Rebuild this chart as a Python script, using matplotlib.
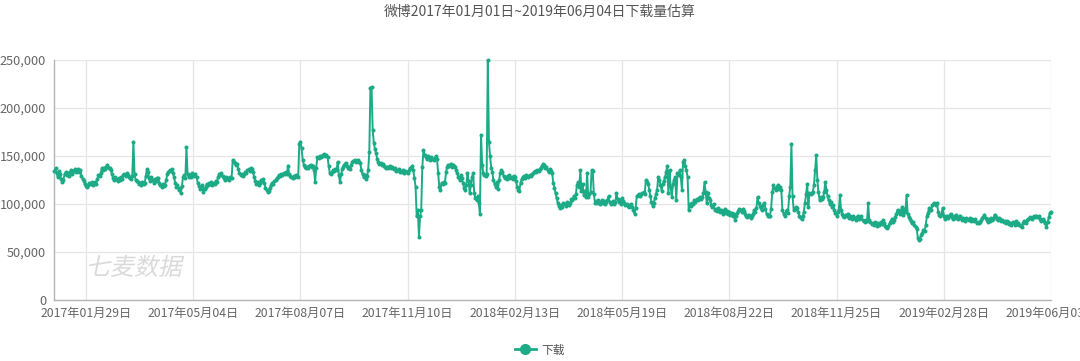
"""
Weibo daily download estimate, 2017-01-01 .. 2019-06-03.
Output: out.png
"""

import matplotlib
matplotlib.use("Agg")
import matplotlib.pyplot as plt
import matplotlib.dates as mdates
from matplotlib.lines import Line2D
from matplotlib.patches import PathPatch
from matplotlib.textpath import TextPath
from matplotlib.font_manager import FontProperties
from matplotlib.transforms import Affine2D
from matplotlib.ticker import FuncFormatter
import numpy as np
import pandas as pd

# ---------------------------------------------------------------------------
# Data (daily downloads, in thousands)
# ---------------------------------------------------------------------------

start_date = "2017-01-01"
title = "微博2017年01月01日~2019年06月04日下载量估算"
series_name = "下载"
watermark = "七麦数据"

tick_dates = ["2017-01-29", "2017-05-04", "2017-08-07", "2017-11-10",
              "2018-02-13", "2018-05-19", "2018-08-22", "2018-11-25",
              "2019-02-28", "2019-06-03"]
y_ticks = [0, 50000, 100000, 150000, 200000, 250000]

downloads_2017_k = [
    134, 137, 132, 128, 134, 131, 126, 123, 125, 131,
    133, 130, 132, 129, 133, 135, 131, 134, 136, 133,
    135, 136, 133, 135, 129, 126, 124, 121, 119, 118,
    120, 122, 121, 123, 120, 122, 123, 121, 126, 130,
    129, 132, 137, 135, 138, 136, 139, 141, 138, 137,
    135, 131, 127, 125, 128, 126, 124, 127, 125, 128,
    126, 130, 131, 129, 132, 130, 128, 127, 126, 129,
    165, 131, 125, 124, 123, 121, 122, 120, 123, 121,
    122, 129, 136, 133, 127, 124, 128, 125, 122, 126,
    124, 127, 127, 122, 120, 118, 121, 119, 120, 125,
    131, 133, 135, 134, 136, 132, 128, 122, 118, 120,
    115, 117, 111, 119, 128, 130, 127, 159, 131, 128,
    130, 128, 132, 130, 129, 131, 128, 122, 119, 116,
    118, 120, 113, 116, 118, 121, 120, 122, 121, 123,
    120, 122, 121, 124, 123, 128, 131, 130, 132, 129,
    127, 125, 128, 126, 127, 125, 128, 127, 146, 144,
    143, 141, 142, 136, 132, 130, 131, 129, 131, 133,
    132, 135, 136, 134, 137, 136, 133, 128, 124, 121,
    123, 120, 122, 125, 124, 126, 122, 117, 115, 113,
    114, 117, 120, 122, 121, 124, 125, 127, 128, 130,
    129, 131, 130, 132, 131, 133, 131, 140, 131, 129,
    128, 127, 129, 128, 130, 129, 128, 163, 165, 158,
    146, 141, 139, 138, 139, 137, 140, 141, 139, 140,
    135, 123, 138, 149, 148, 150, 149, 150, 151, 152,
    150, 151, 149, 140, 132, 131, 133, 135, 134, 136,
    135, 144, 130, 123, 131, 136, 139, 141, 143, 140,
    138, 137, 136, 141, 144, 145, 146, 144, 145, 146,
    144, 143, 135, 131, 128, 130, 126, 129, 135, 154,
    221, 222, 177, 164, 157, 153, 147, 144, 142, 143,
    141, 142, 140, 139, 138, 139, 138, 140, 137, 139,
    138, 136, 137, 134, 135, 136, 133, 134, 133, 135,
    132, 134, 133, 132, 135, 137, 138, 140, 135, 127,
    118, 87, 94, 66, 87, 94, 139, 156, 151, 149,
    147, 150, 148, 146, 149, 147, 146, 148, 150, 147,
    132, 118, 115, 122, 121, 123, 122, 133, 139, 141,
    140, 142, 139, 141, 140, 139, 135, 132, 128, 125,
    130, 127, 122, 117, 115,
]

downloads_2018_k = [
    120, 132, 124, 111, 120,
    128, 132, 111, 106, 104, 108, 101, 90, 172, 141,
    132, 130, 129, 131, 250, 165, 150, 138, 133, 125,
    121, 118, 123, 116, 125, 132, 135, 133, 129, 127,
    128, 126, 129, 130, 127, 128, 126, 129, 128, 124,
    118, 115, 114, 122, 126, 128, 129, 127, 130, 129,
    128, 130, 129, 131, 132, 133, 134, 133, 135, 134,
    136, 138, 140, 142, 141, 138, 139, 135, 133, 136,
    134, 132, 122, 117, 111, 106, 101, 98, 96, 99,
    97, 101, 100, 98, 102, 100, 99, 101, 105, 104,
    108, 106, 110, 120, 123, 118, 135, 114, 121, 109,
    114, 107, 132, 107, 110, 112, 135, 134, 110, 101,
    103, 101, 104, 100, 102, 104, 101, 103, 100, 102,
    104, 108, 102, 100, 101, 103, 100, 102, 111, 105,
    102, 104, 100, 106, 103, 101, 99, 100, 98, 97,
    99, 100, 97, 94, 90, 96, 108, 109, 110, 108,
    110, 111, 112, 110, 125, 123, 121, 115, 108, 102,
    98, 101, 106, 110, 115, 128, 125, 120, 114, 121,
    124, 128, 133, 140, 111, 135, 118, 107, 121, 125,
    128, 104, 132, 130, 135, 128, 115, 144, 146, 140,
    135, 128, 94, 100, 98, 101, 100, 104, 102, 105,
    104, 106, 107, 105, 107, 111, 123, 112, 101, 111,
    106, 104, 99, 97, 100, 94, 95, 93, 96, 94,
    92, 94, 90, 93, 95, 91, 93, 90, 92, 89,
    91, 88, 90, 83, 88, 91, 93, 95, 94, 92,
    95, 93, 90, 88, 86, 89, 87, 85, 88, 90,
    94, 92, 96, 107, 101, 98, 96, 94, 99, 101,
    95, 90, 88, 87, 88, 95, 112, 120, 117, 115,
    118, 120, 116, 118, 115, 94, 90, 88, 92, 94,
    91, 108, 118, 163, 108, 94, 95, 97, 96, 92,
    88, 86, 84, 87, 92, 101, 110, 121, 97, 111,
    110, 111, 113, 120, 135, 151, 125, 112, 104, 107,
    105, 107, 112, 123, 115, 108, 104, 100, 102, 97,
    99, 94, 91, 88, 92, 94, 109, 94, 90, 88,
    86, 89, 87, 90, 85, 88, 86, 84, 87, 85,
    83, 86, 88, 84, 85, 87, 83, 82, 81, 83,
    82, 101, 83, 81, 79, 80, 78, 81, 79, 77,
]

downloads_2019_k = [
    80, 78, 81, 79, 83, 80, 77, 76, 75, 77,
    80, 82, 84, 81, 83, 86, 90, 94, 92, 90,
    93, 97, 89, 95, 92, 109, 90, 86, 84, 82,
    80, 81, 78, 76, 74, 65, 63, 64, 68, 70,
    73, 72, 78, 87, 91, 96, 94, 94, 99, 101,
    100, 99, 101, 92, 89, 87, 90, 96, 88, 84,
    86, 88, 85, 87, 90, 86, 84, 87, 85, 89,
    86, 84, 88, 85, 83, 85, 84, 82, 85, 84,
    83, 85, 82, 84, 83, 82, 84, 80, 81, 80,
    81, 83, 85, 86, 89, 85, 83, 81, 84, 82,
    85, 83, 84, 89, 86, 84, 83, 85, 84, 82,
    83, 81, 82, 80, 82, 81, 79, 80, 78, 81,
    80, 78, 82, 79, 80, 78, 77, 76, 80, 82,
    81, 80, 83, 84, 86, 85, 84, 86, 87, 86,
    88, 86, 87, 84, 82, 83, 84, 82, 80, 76,
    81, 86, 91, 92,
]

# ---------------------------------------------------------------------------
# Style
# ---------------------------------------------------------------------------

LINE = "#1cab86"
GRID = "#e6e6e6"
AXIS = "#b4b4b4"
LABEL = "#666666"

plt.rcParams["font.family"] = ["Noto Sans CJK SC", "DejaVu Sans"]

values = np.array(downloads_2017_k + downloads_2018_k + downloads_2019_k) * 1000
dates = pd.date_range(start_date, periods=len(values), freq="D")

fig = plt.figure(figsize=(10.8, 3.61), dpi=100, facecolor="white")
ax = fig.add_axes([54.4 / 1080, 1 - 300 / 361, (1051 - 54.4) / 1080, 240 / 361])

ax.plot(dates, values, color=LINE, linewidth=1.4, marker="o", markersize=1.9,
        markerfacecolor=LINE, markeredgecolor=LINE, zorder=3, clip_on=False)

ax.set_xlim(dates[0], dates[-1])
ax.set_ylim(0, 250000)
ax.set_xticks(pd.to_datetime(tick_dates))
ax.xaxis.set_major_formatter(mdates.DateFormatter("%Y年%m月%d日"))
ax.set_yticks(y_ticks)
ax.yaxis.set_major_formatter(FuncFormatter(lambda v, p: f"{int(v):,}"))

ax.grid(True, color=GRID, linewidth=0.9, zorder=0)
ax.set_axisbelow(True)
for side in ("top", "right"):
    ax.spines[side].set_visible(False)
for side in ("left", "bottom"):
    ax.spines[side].set_color(AXIS)
    ax.spines[side].set_linewidth(1.0)

ax.tick_params(axis="both", length=0, colors=LABEL)
ax.tick_params(axis="y", pad=6, labelsize=9.2)
ax.tick_params(axis="x", pad=5, labelsize=8.8)

# title
fig.text(0.5, 1 - 12 / 361, title, ha="center", va="center",
         fontsize=10, color="#555555")

# legend at the bottom
handle = Line2D([], [], color=LINE, linewidth=2, marker="o", markersize=7,
                markerfacecolor=LINE, markeredgecolor=LINE)
leg = fig.legend([handle], [series_name], loc="center",
                 bbox_to_anchor=(0.5, 1 - 350 / 361), frameon=False,
                 fontsize=8.5, handlelength=1.8, handletextpad=0.5)
for t in leg.get_texts():
    t.set_color("#555555")

# slanted watermark
wm_path = TextPath((0, 0), watermark, size=24,
                   prop=FontProperties(family="Noto Sans CJK SC"))
fig.add_artist(PathPatch(wm_path,
                         transform=Affine2D().skew_deg(12, 0).translate(86, 86),
                         facecolor="#dadada", edgecolor="none", zorder=1))

fig.savefig("out.png", dpi=100, facecolor="white")
